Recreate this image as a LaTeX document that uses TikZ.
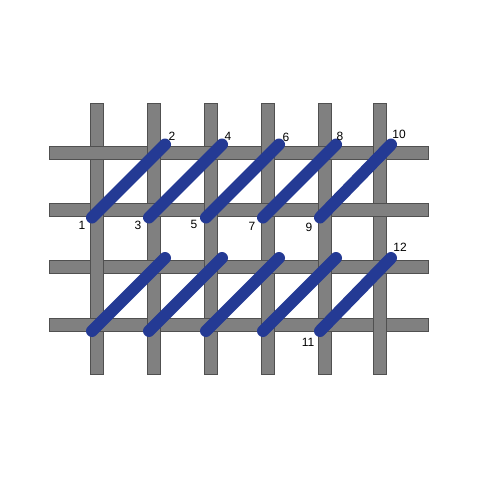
\documentclass[tikz,border=0pt]{standalone}
\usepackage{fontspec}
\setmainfont{Liberation Sans}
\definecolor{barfill}{RGB}{128,128,128}
\definecolor{baredge}{RGB}{80,80,80}
\definecolor{stitchblue}{RGB}{36,58,148}
\begin{document}
\begin{tikzpicture}[x=1pt,y=-1pt,
  bar/.style={fill=barfill,draw=baredge,line width=0.8pt},
  stitch/.style={draw=stitchblue,line width=12pt,line cap=round},
  num/.style={font=\fontsize{12}{12}\selectfont,inner sep=0pt}]
\useasboundingbox (0,0) rectangle (480,480);
\fill[white] (0,0) rectangle (480,480);
% vertical threads
\foreach \x in {97,154,211,268,325,380}
  \draw[bar] (\x-6.5,103) rectangle (\x+6.5,374);
% horizontal threads
\foreach \y in {152.5,209.5,267,324.5}
  \draw[bar] (49,\y-6.5) rectangle (428,\y+6.5);
% weave: vertical thread over horizontal
\foreach \c/\x in {0/97,1/154,2/211,3/268,4/325,5/380}{
  \foreach \r/\y in {0/152.5,1/209.5,2/267,3/324.5}{
    \pgfmathtruncatemacro{\p}{mod(\c+\r+floor(\r/2),2)}
    \ifnum\p=1
      \fill[barfill] (\x-6.1,\y-7.4) rectangle (\x+6.1,\y+7.4);
      \draw[baredge,line width=0.8pt] (\x-6.5,\y-7.4) -- (\x-6.5,\y+7.4)
        (\x+6.5,\y-7.4) -- (\x+6.5,\y+7.4);
    \fi
  }}
% stitch end points
\foreach \i/\xa/\xb in {0/97/154,1/154/211,2/211/268,3/268/325,4/325/380}{
  \coordinate (a\i) at (\xa-5,217.5);
  \coordinate (b\i) at (\xb+11,144.5);
  \coordinate (c\i) at (\xa-5,331);
  \coordinate (d\i) at (\xb+11,258);
}
\foreach \i in {0,...,4}{
  \draw[stitch] (a\i) -- (b\i);
  \draw[stitch] (c\i) -- (d\i);
}
% labels
\node[num] (l1) at (82,225) {1};
\node[num] (l2) at (172,136) {2};
\node[num] (l3) at (138,225) {3};
\node[num] (l4) at (228,136) {4};
\node[num] (l5) at (194,224) {5};
\node[num] (l6) at (286,137) {6};
\node[num] (l7) at (252,226) {7};
\node[num] (l8) at (340,136) {8};
\node[num] (l9) at (309,227) {9};
\node[num] (l10) at (399,134) {10};
\node[num] (l11) at (308,342) {11};
\node[num] (l12) at (400,247) {12};
\end{tikzpicture}
\end{document}
